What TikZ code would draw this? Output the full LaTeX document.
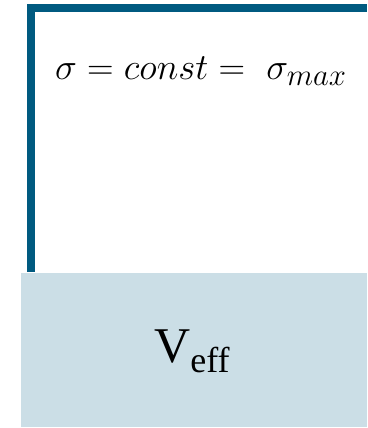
\documentclass[tikz,border=0pt]{standalone}
\usepackage{graphicx}
\usepackage{fontspec}
\newfontfamily\serifb{Liberation Serif}
\definecolor{darkblue}{HTML}{005A80}
\definecolor{lightblue}{HTML}{CBDEE6}
\tikzset{
  bracket/.style={draw=darkblue, line width=8.3pt, line join=miter},
  panel/.style={fill=lightblue, draw=none},
  formula/.style={inner sep=0pt, anchor=base},
  label/.style={inner sep=0pt, anchor=base}
}
\begin{document}
\begin{tikzpicture}[x=1pt,y=1pt]
\useasboundingbox (0,0) rectangle (367,428);
\coordinate (bstart) at (30.85,156);
\coordinate (bcorner) at (30.85,420);
\coordinate (bend) at (367,420);
\draw[bracket] (bstart) -- (bcorner) -- (bend);
\fill[panel] (21,1) rectangle (367,155.3);
\node[formula] (f) at (201,348) {\fontsize{24.88}{30}\selectfont\scalebox{1.48}{$\sigma = const =\ \sigma_{max}$}};
\node[label] (v) at (192,65) {\serifb\fontsize{50}{56}\selectfont V\raisebox{-10pt}{\fontsize{36}{40}\selectfont eff}};
\end{tikzpicture}
\end{document}
